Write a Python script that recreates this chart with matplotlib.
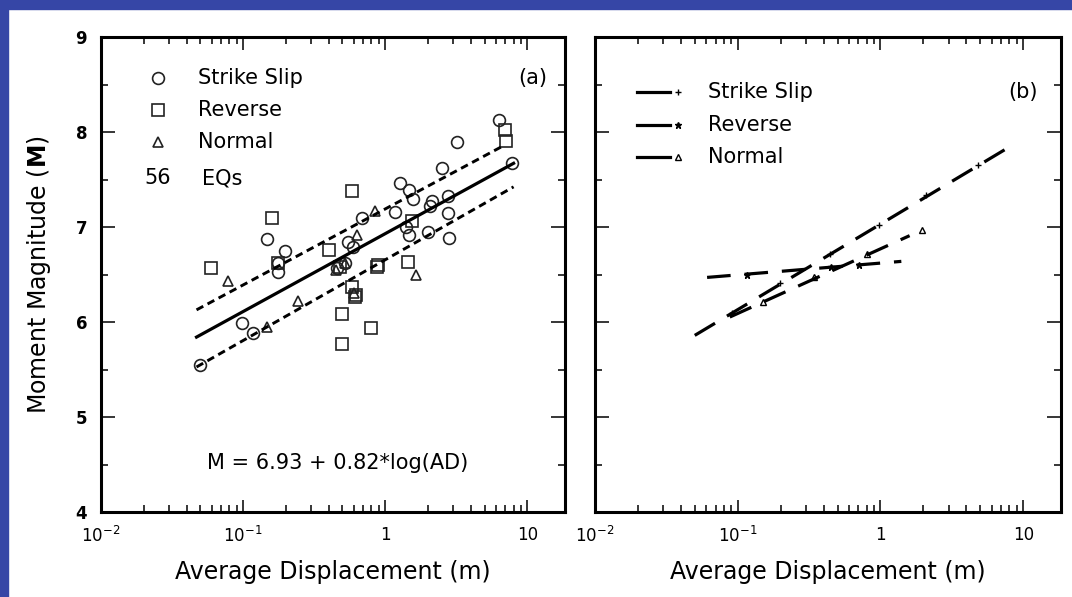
"""Average displacement vs moment magnitude, two-panel log plot."""

import numpy as np
import matplotlib

matplotlib.use("Agg")
import matplotlib.pyplot as plt
from matplotlib.patches import Rectangle
from matplotlib.ticker import LogLocator, FixedLocator, NullFormatter, MultipleLocator

# panel (a): individual earthquakes (average displacement m, moment magnitude)
ss_ad = [0.050, 0.098, 0.118, 0.147, 0.198, 0.176, 0.176, 0.46, 0.52, 0.55,
         0.69, 0.59, 1.17, 1.28, 1.48, 1.57, 2.07, 1.48, 2.0, 2.8,
         2.78, 2.78, 2.5, 3.2, 6.3, 7.8, 1.40, 2.15]
ss_m = [5.55, 5.99, 5.88, 6.87, 6.75, 6.62, 6.53, 6.57, 6.62, 6.84,
        7.10, 6.79, 7.16, 7.46, 7.39, 7.30, 7.22, 6.92, 6.95, 6.88,
        7.15, 7.33, 7.62, 7.90, 8.13, 7.67, 7.00, 7.27]
rv_ad = [0.059, 0.16, 0.176, 0.40, 0.586, 0.48, 0.586, 0.61, 0.62, 0.50,
         0.50, 0.80, 0.88, 0.89, 1.45, 1.55, 7.0, 7.1]
rv_m = [6.57, 7.10, 6.62, 6.76, 7.38, 6.58, 6.37, 6.26, 6.28, 6.08,
        5.77, 5.94, 6.58, 6.60, 6.63, 7.06, 8.02, 7.91]
nm_ad = [0.078, 0.147, 0.244, 0.85, 0.635, 1.65, 0.60, 0.45, 0.52]
nm_m = [6.43, 5.95, 6.22, 7.17, 6.92, 6.49, 6.31, 6.55, 6.62]

# regression M = a + b*log10(AD) and the two dashed bounds
fit_coef = (6.93, 0.82)
fit_range = (0.047, 8.0)
upper_coef = (7.19, 0.80)
upper_range = (0.047, 6.8)
lower_coef = (6.655, 0.85)
lower_range = (0.047, 8.0)

# panel (b): regressions per fault type and binned points
b_ss_coef, b_ss_range = (7.03, 0.90), (0.05, 7.7)
b_rv_coef, b_rv_range = (6.62, 0.124), (0.061, 1.4)
b_nm_coef, b_nm_range = (6.77, 0.68), (0.088, 1.6)
b_ss_ad = [0.091, 0.197, 0.44, 0.97, 2.1, 4.8]
b_ss_m = [6.09, 6.41, 6.72, 7.02, 7.34, 7.65]
b_rv_ad = [0.117, 0.45, 0.71]
b_rv_m = [6.49, 6.58, 6.60]
b_nm_ad = [0.15, 0.345, 0.81, 1.94]
b_nm_m = [6.21, 6.47, 6.72, 6.97]

XLIM = (0.01, 18.4)
YLIM = (4, 9)
FONT = "DejaVu Sans"
BLUE = "#3646a6"


def fit_line(coef, xr):
    x = np.logspace(np.log10(xr[0]), np.log10(xr[1]), 50)
    return x, coef[0] + coef[1] * np.log10(x)


def style_axes(ax, ylabels):
    ax.set_xscale("log")
    ax.set_xlim(*XLIM)
    ax.set_ylim(*YLIM)
    for sp in ax.spines.values():
        sp.set_linewidth(2.2)
    ax.xaxis.set_major_locator(FixedLocator([0.01, 0.1, 1, 10]))
    ax.xaxis.set_minor_locator(LogLocator(base=10, subs=np.arange(2, 10)))
    ax.xaxis.set_minor_formatter(NullFormatter())
    ax.set_xticklabels(["$10^{-2}$", "$10^{-1}$", "1", "10"])
    ax.yaxis.set_major_locator(MultipleLocator(1))
    ax.yaxis.set_minor_locator(MultipleLocator(0.5))
    ax.tick_params(which="both", direction="in", top=True, right=True, width=1.1)
    ax.tick_params(which="major", length=9, labelsize=12, pad=10)
    ax.tick_params(which="minor", length=5)
    ax.tick_params(axis="y", which="major", length=10)
    if ylabels:
        for t in ax.get_yticklabels():
            t.set_fontweight("bold")
    else:
        ax.set_yticklabels([])
    ax.set_xlabel("Average Displacement (m)", fontsize=17, labelpad=10)


plt.rcParams["font.family"] = FONT
plt.rcParams["lines.scale_dashes"] = False

fig = plt.figure(figsize=(10.72, 5.97), dpi=100)
fig.patches.append(Rectangle((0, 0), 8 / 1072, 1, transform=fig.transFigure,
                             color=BLUE, zorder=0))
fig.patches.append(Rectangle((0, 1 - 9 / 597), 1, 9 / 597, transform=fig.transFigure,
                             color=BLUE, zorder=0))

ax_a = fig.add_axes([101 / 1072, 1 - 512 / 597, 464 / 1072, 475 / 597])
ax_b = fig.add_axes([595 / 1072, 1 - 512 / 597, 466 / 1072, 475 / 597])

# ---- panel (a)
mk = dict(linestyle="none", markerfacecolor="none", markeredgecolor="#222222",
          markeredgewidth=1.2, markersize=8.5)
ax_a.plot(ss_ad, ss_m, marker="o", **mk)
ax_a.plot(rv_ad, rv_m, marker="s", **mk)
ax_a.plot(nm_ad, nm_m, marker="^", **{**mk, "markersize": 7.5})

x, y = fit_line(fit_coef, fit_range)
ax_a.plot(x, y, color="black", linewidth=2.3)
for coef, xr in ((upper_coef, upper_range), (lower_coef, lower_range)):
    x, y = fit_line(coef, xr)
    ax_a.plot(x, y, color="black", linewidth=2.1, dashes=(5.5, 3.5))

tx = ax_a.transAxes
ax_a.plot([0.123], [0.914], marker="o", transform=tx, **mk)
ax_a.plot([0.123], [0.846], marker="s", transform=tx, **mk)
ax_a.plot([0.123], [0.779], marker="^", transform=tx, **{**mk, "markersize": 6.5})
for yy, s in ((0.914, "Strike Slip"), (0.846, "Reverse"), (0.779, "Normal")):
    ax_a.text(0.209, yy, s, transform=tx, fontsize=15, va="center", ha="left")
ax_a.text(0.123, 0.703, "56", transform=tx, fontsize=15, va="center", ha="center")
ax_a.text(0.218, 0.703, "EQs", transform=tx, fontsize=15, va="center", ha="left")
ax_a.text(0.961, 0.914, "(a)", transform=tx, fontsize=15, va="center", ha="right")
ax_a.text(0.509, 0.103, "M = 6.93 + 0.82*log(AD)", transform=tx, fontsize=15,
          va="center", ha="center")
style_axes(ax_a, True)
ax_a.set_ylabel("Moment Magnitude ($\\mathbf{M}$)", fontsize=17, labelpad=16)

# ---- panel (b)
ldash = (17, 10)
for coef, xr in ((b_ss_coef, b_ss_range), (b_rv_coef, b_rv_range), (b_nm_coef, b_nm_range)):
    x, y = fit_line(coef, xr)
    ax_b.plot(x, y, color="black", linewidth=2.3, dashes=ldash)
small = dict(linestyle="none", color="black", markerfacecolor="none", markeredgewidth=1.0)
ax_b.plot(b_ss_ad, b_ss_m, marker="+", markersize=5, **small)
ax_b.plot(b_rv_ad, b_rv_m, marker="*", markersize=5, linestyle="none", color="black")
ax_b.plot(b_nm_ad, b_nm_m, marker="^", markersize=4.5, **small)

tx = ax_b.transAxes
for yy, m, s, ms in ((0.884, "+", "Strike Slip", 5), (0.815, "*", "Reverse", 5),
                     (0.747, "^", "Normal", 4.5)):
    ax_b.plot([0.090, 0.161], [yy, yy], transform=tx, color="black", linewidth=2.3)
    if m == "*":
        ax_b.plot([0.178], [yy], transform=tx, marker=m, markersize=ms, color="black")
    else:
        ax_b.plot([0.178], [yy], transform=tx, marker=m, markersize=ms, **small)
    ax_b.text(0.242, yy, s, transform=tx, fontsize=15, va="center", ha="left")
ax_b.text(0.951, 0.884, "(b)", transform=tx, fontsize=15, va="center", ha="right")
style_axes(ax_b, False)

fig.savefig("out.png", dpi=100)
